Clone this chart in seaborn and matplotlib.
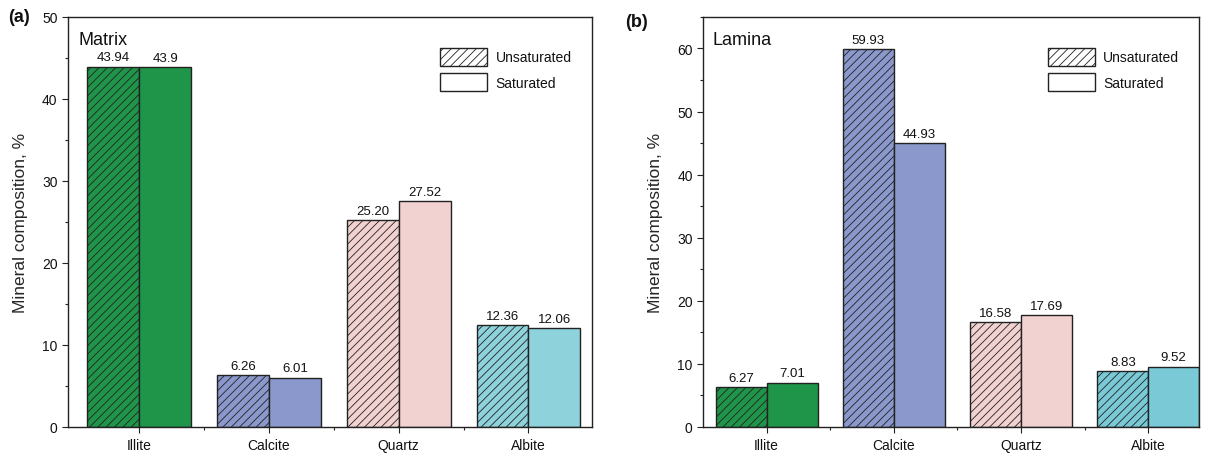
import pandas as pd
import matplotlib.pyplot as plt
import seaborn as sns
from matplotlib.patches import Patch
from matplotlib.ticker import MultipleLocator, FixedLocator

# Data
minerals = ['Illite', 'Calcite', 'Quartz', 'Albite']
matrix_unsat = [43.94, 6.26, 25.20, 12.36]
matrix_sat = [43.90, 6.01, 27.52, 12.06]
matrix_unsat_lbl = ['43.94', '6.26', '25.20', '12.36']
matrix_sat_lbl = ['43.9', '6.01', '27.52', '12.06']
lamina_unsat = [6.27, 59.93, 16.58, 8.83]
lamina_sat = [7.01, 44.93, 17.69, 9.52]
lamina_unsat_lbl = ['6.27', '59.93', '16.58', '8.83']
lamina_sat_lbl = ['7.01', '44.93', '17.69', '9.52']

colors_a = ['#1f954a', '#8a98cc', '#f2d1d1', '#8ed2db']
colors_b = ['#1f954a', '#8a98cc', '#f2d1d1', '#79c9d6']

sns.set_style('ticks')
plt.rcParams['font.family'] = ['Liberation Sans', 'DejaVu Sans']
plt.rcParams['hatch.linewidth'] = 0.6
plt.rcParams['text.color'] = '#111111'
plt.rcParams['xtick.color'] = '#222222'
plt.rcParams['ytick.color'] = '#222222'
plt.rcParams['xtick.labelcolor'] = '#111111'
plt.rcParams['ytick.labelcolor'] = '#111111'

fig = plt.figure(figsize=(12.13, 4.6), dpi=100)
ax1 = fig.add_axes([0.056, 0.07, 0.432, 0.891])
ax2 = fig.add_axes([0.5796, 0.07, 0.409, 0.891])

HATCH = '////'


def draw_panel(ax, unsat, sat, unsat_lbl, sat_lbl, colors, title, ymax, ymajor, xlim):
    df = pd.DataFrame({
        'Mineral': minerals * 2,
        'Value': unsat + sat,
        'State': ['Unsaturated'] * 4 + ['Saturated'] * 4,
    })
    sns.barplot(data=df, x='Mineral', y='Value', hue='State', ax=ax,
                order=minerals, hue_order=['Unsaturated', 'Saturated'],
                width=0.8, legend=False, errorbar=None)
    bars = ax.patches
    # first 4 patches = Unsaturated, next 4 = Saturated
    for i, p in enumerate(bars[:8]):
        p.set_facecolor(colors[i % 4])
        p.set_edgecolor('#222222')
        p.set_linewidth(1.0)
        if i < 4:
            p.set_hatch(HATCH)
    labels = unsat_lbl + sat_lbl
    for p, lab in zip(bars[:8], labels):
        ax.text(p.get_x() + p.get_width() / 2, p.get_height() + ymax * 0.008, lab,
                ha='center', va='bottom', fontsize=9.5)

    ax.set_ylim(0, ymax)
    ax.set_xlim(*xlim)
    ax.yaxis.set_major_locator(MultipleLocator(ymajor))
    ax.yaxis.set_minor_locator(MultipleLocator(ymajor / 2))
    ax.xaxis.set_minor_locator(FixedLocator([0.5, 1.5, 2.5]))
    ax.tick_params(axis='both', which='major', length=4, width=0.8, labelsize=10, direction='out')
    ax.tick_params(axis='both', which='minor', length=2.5, width=0.8, direction='out')
    ax.tick_params(axis='x', pad=4)
    for s in ax.spines.values():
        s.set_linewidth(1.0)
        s.set_color('#222222')
    ax.set_xlabel('')
    ax.set_ylabel('Mineral composition, %', fontsize=12.5)
    ax.text(0.02, 0.965, title, transform=ax.transAxes, ha='left', va='top', fontsize=13)

    handles = [Patch(facecolor='white', edgecolor='#222222', hatch=HATCH, label='Unsaturated'),
               Patch(facecolor='white', edgecolor='#222222', label='Saturated')]
    ax.legend(handles=handles, loc='upper right', bbox_to_anchor=(0.985, 0.955), frameon=False,
              fontsize=10, handlelength=3.4, handleheight=1.6, labelspacing=0.55,
              handletextpad=0.6)


draw_panel(ax1, matrix_unsat, matrix_sat, matrix_unsat_lbl, matrix_sat_lbl,
           colors_a, 'Matrix', 50, 10, (-0.55, 3.49))
draw_panel(ax2, lamina_unsat, lamina_sat, lamina_unsat_lbl, lamina_sat_lbl,
           colors_b, 'Lamina', 65, 10, (-0.5, 3.4))
ax1.yaxis.labelpad = 10
ax2.yaxis.labelpad = 10

fig.text(0.007, 0.962, '(a)', fontsize=13, fontweight='bold', ha='left', va='center')
fig.text(0.515, 0.952, '(b)', fontsize=13, fontweight='bold', ha='left', va='center')

plt.savefig('out.png', dpi=100)
